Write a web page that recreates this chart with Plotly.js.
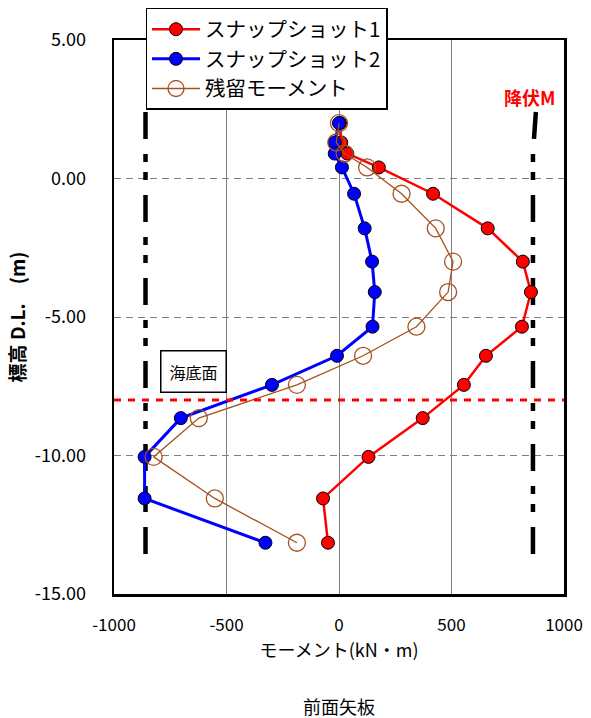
<!DOCTYPE html>
<html>
<head>
<meta charset="utf-8">
<script src="https://cdn.plot.ly/plotly-3.0.1.min.js"></script>
<style>html,body{margin:0;padding:0;background:#fff;}#chart{width:591px;height:718px;}</style>
</head>
<body>
<div id="chart"></div>
<script>
// Depths (D.L., m)
const depths = [2.0, 1.3, 0.9, 0.4, -0.55, -1.8, -3.0, -4.1, -5.35, -6.4, -7.45, -8.65, -10.05, -11.55, -13.15];
// Moment values (kN·m)
const snapshot1 = [5, 10, 37, 177, 418, 661, 817, 853, 813, 653, 555, 372, 131, -71, -49];
const snapshot2 = [0, -19, -19, 13, 67, 114, 147, 159, 149, -9, -298, -703, -864, -864, -327];
const residual  = [0, -12, 25, 125, 278, 430, 507, 485, 344, 107, -187, -623, -824, -552, -187];
// Yield moment lines
const yieldLeftX = [-860, -860];
const yieldRightX = [875, 862, 862];
const yieldLeftY = [2.4, -14.0];
const yieldRightY = [2.4, 0.9, -13.9];
const seabedLevel = -8.0;
const seriesNames = ['スナップショット1', 'スナップショット2', '残留モーメント'];
const xTicks = [-1000, -500, 0, 500, 1000];
const yTicks = [5, 0, -5, -10, -15];

const FONT = '"Noto Sans CJK JP", "Noto Sans", sans-serif';

const traces = [
  {x: yieldLeftX, y: yieldLeftY, mode: 'lines', showlegend: false, hoverinfo: 'skip',
   line: {color: '#000', width: 4.5, dash: '27px,15px,8px,10px,8px,15px'}},
  {x: yieldRightX, y: yieldRightY, mode: 'lines', showlegend: false, hoverinfo: 'skip',
   line: {color: '#000', width: 4.5, dash: '27px,15px,8px,10px,8px,15px'}},
  {x: snapshot1, y: depths, name: seriesNames[0], mode: 'lines+markers',
   line: {color: '#FF0000', width: 2.5},
   marker: {color: '#FF0000', size: 13, line: {color: '#000', width: 1}}},
  {x: snapshot2, y: depths, name: seriesNames[1], mode: 'lines+markers',
   line: {color: '#0000FF', width: 3},
   marker: {color: '#0000FF', size: 13, line: {color: '#000', width: 1}}},
  {x: residual, y: depths, name: seriesNames[2], mode: 'lines+markers',
   line: {color: '#A5501E', width: 1.3},
   marker: {color: '#A5501E', size: 17, symbol: 'circle-open', line: {width: 1.3}}}
];

const layout = {
  width: 591, height: 718,
  margin: {l: 114, r: 27, t: 40, b: 124, autoexpand: false},
  paper_bgcolor: '#fff', plot_bgcolor: '#fff',
  font: {family: FONT, color: '#000', size: 17},
  showlegend: true,
  legend: {x: 0.07, y: 1.058, xanchor: 'left', yanchor: 'top',
    bgcolor: '#fff', bordercolor: '#000', borderwidth: 1.5,
    itemwidth: 48,
    font: {family: FONT, size: 20.5, color: '#000'}, tracegroupgap: 0},
  xaxis: {
    range: [-1000, 1000], tickvals: xTicks, ticktext: xTicks.map(v => v < 0 ? '-' + Math.abs(v) : String(v)),
    showgrid: true, gridcolor: '#808080', gridwidth: 1,
    zeroline: false, showline: true, mirror: true, linecolor: '#000', linewidth: 2.5,
    ticks: '', ticklabelstandoff: 14,
    tickfont: {family: FONT, size: 17},
    title: {text: 'モーメント(kN・m)', font: {family: FONT, size: 18}, standoff: 8}
  },
  yaxis: {
    range: [-15, 5], tickvals: yTicks, ticktext: yTicks.map(v => (v < 0 ? '-' : '') + Math.abs(v).toFixed(2)),
    showgrid: true, gridcolor: '#808080', gridwidth: 1, griddash: '7px,5px',
    zeroline: false, showline: true, mirror: true, linecolor: '#000', linewidth: 2.5,
    ticks: '', ticklabelstandoff: 22,
    tickfont: {family: FONT, size: 18},
    title: {text: '<b>標高 D.L.　(m)</b>', font: {family: FONT, size: 19}, standoff: 4}
  },
  shapes: [
    {type: 'line', xref: 'paper', x0: 0, x1: 1, yref: 'y', y0: seabedLevel, y1: seabedLevel,
     line: {color: '#FF0000', width: 3, dash: '7px,7px'}}
  ],
  annotations: [
    {text: '<b>降伏M</b>', xref: 'paper', yref: 'paper', x: 0.985, y: 1.0 - (97 - 40) / 554,
     xanchor: 'right', yanchor: 'middle', showarrow: false,
     font: {family: FONT, size: 18, color: '#FF0000'}},
    {text: '海底面', xref: 'x', yref: 'y', x: -648, y: -6.97, showarrow: false,
     xanchor: 'center', yanchor: 'middle',
     bgcolor: '#fff', bordercolor: '#000', borderwidth: 1.5, borderpad: 8,
     font: {family: FONT, size: 16, color: '#000'}},
    {text: '前面矢板', xref: 'paper', yref: 'paper', x: 0.5, y: 1.0 - (706 - 40) / 554,
     xanchor: 'center', yanchor: 'middle', showarrow: false,
     font: {family: FONT, size: 18, color: '#000'}}
  ]
};

Plotly.newPlot('chart', traces, layout, {displayModeBar: false, staticPlot: true});
</script>
</body>
</html>
